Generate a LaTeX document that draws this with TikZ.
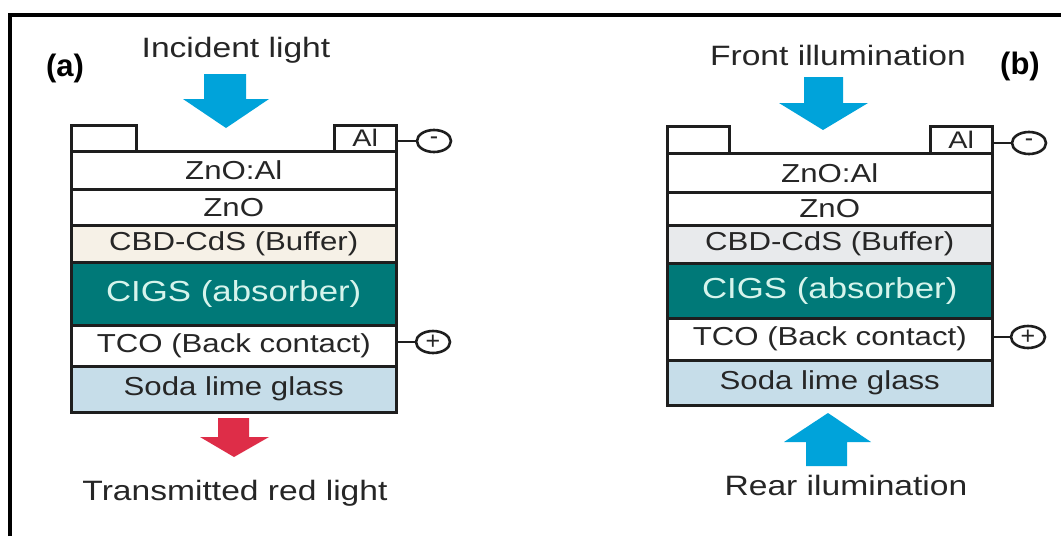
\documentclass[tikz,border=0pt]{standalone}
\usepackage{fontspec}
\usetikzlibrary{shapes.geometric}
\setmainfont{Liberation Sans}
\newfontfamily\lab[FakeStretch=1.2]{Liberation Sans}
\definecolor{lightblue}{RGB}{0,163,218}
\definecolor{redarrow}{RGB}{222,45,72}
\definecolor{teal1}{RGB}{0,121,120}
\definecolor{cigstxt}{RGB}{214,244,236}
\definecolor{beige}{RGB}{246,241,231}
\definecolor{greyl}{RGB}{232,234,236}
\definecolor{glass}{RGB}{198,221,233}
\definecolor{txt}{RGB}{38,38,38}
\definecolor{edge}{RGB}{30,30,30}
\begin{document}
\begin{tikzpicture}[x=1pt,y=-1pt,
  layer/.style={draw=edge, line width=2.5pt, minimum width=325pt, inner sep=0pt,
    anchor=north west, text=txt, font=\lab\fontsize{26}{26}\selectfont},
  contact/.style={draw=edge, line width=2.5pt, inner sep=0pt, anchor=north west,
    minimum height=26pt, text=txt, font=\lab\fontsize{24}{24}\selectfont},
  term/.style={draw=edge, line width=2.6pt, ellipse, minimum width=34pt, minimum height=22pt,
    inner sep=0pt, text=txt, font=\fontsize{25}{25}\selectfont},
  wire/.style={draw=edge, line width=2.6pt},
  caption/.style={anchor=base, text=txt, font=\lab\fontsize{28}{28}\selectfont},
  panel/.style={anchor=base, font=\bfseries\fontsize{31}{31}\selectfont}
]
\useasboundingbox (0,0) rectangle (1061,536);
\fill[white] (0,0) rectangle (1061,536);
% frame
\draw[line width=4pt, black] (10,536) -- (10,15) -- (1061,15);

% ---------------- panel (a)
\node[panel] (pa) at (65,76) {(a)};
\node[caption] (inc) at (236,57) {Incident light};
\fill[lightblue] (204,74) -- (246,74) -- (246,99) -- (269,99) -- (226,128) -- (183,99) -- (204,99) -- cycle;

\node[contact, minimum width=65pt] (ac1) at (70,124) {};
\node[contact, minimum width=62pt] (ac2) at (333,124) {Al};
\node[layer, minimum height=38pt] (a1) at (70,150) {ZnO:Al};
\node[layer, minimum height=36pt] (a2) at (70,188) {ZnO};
\node[layer, minimum height=37pt, fill=beige] (a3) at (70,224) {CBD-CdS (Buffer)};
\node[layer, minimum height=63pt, fill=teal1, text=cigstxt, font=\lab\fontsize{29}{29}\selectfont] (a4) at (70,261) {CIGS (absorber)};
\node[layer, minimum height=41pt] (a5) at (70,324) {TCO (Back contact)};
\node[layer, minimum height=46pt, fill=glass] (a6) at (70,365) {Soda lime glass};

\node[term] (am) at (434,141) {-};
\node[term] (ap) at (433,342) {+};
\draw[wire] (ac2.east |- am) -- (am.west);
\draw[wire] (a5.east |- ap) -- (ap.west);

\fill[redarrow] (218,418) -- (249,418) -- (249,437) -- (269,437) -- (234,457) -- (200,437) -- (218,437) -- cycle;
\node[caption] (tr) at (235,500) {Transmitted red light};

% ---------------- panel (b)
\node[panel] (pb) at (1020,74) {(b)};
\node[caption] (fr) at (838,65) {Front illumination};
\fill[lightblue] (804,77) -- (843,77) -- (843,103) -- (868,103) -- (823,130) -- (779,103) -- (804,103) -- cycle;

\node[contact, minimum width=62pt, minimum height=27pt] (bc1) at (666,125) {};
\node[contact, minimum width=62pt, minimum height=27pt] (bc2) at (929,125) {Al};
\node[layer, minimum height=39pt] (b1) at (666,152) {ZnO:Al};
\node[layer, minimum height=33pt] (b2) at (666,191) {ZnO};
\node[layer, minimum height=38pt, fill=greyl] (b3) at (666,224) {CBD-CdS (Buffer)};
\node[layer, minimum height=55pt, fill=teal1, text=cigstxt, font=\lab\fontsize{29}{29}\selectfont] (b4) at (666,262) {CIGS (absorber)};
\node[layer, minimum height=42pt] (b5) at (666,317) {TCO (Back contact)};
\node[layer, minimum height=45pt, fill=glass] (b6) at (666,359) {Soda lime glass};

\node[term] (bm) at (1029,143) {-};
\node[term] (bp) at (1028,337) {+};
\draw[wire] (bc2.east |- bm) -- (bm.west);
\draw[wire] (b5.east |- bp) -- (bp.west);

\fill[lightblue] (828,413) -- (871,442) -- (847,442) -- (847,466) -- (806,466) -- (806,442) -- (784,442) -- cycle;
\node[caption] (re) at (846,495) {Rear ilumination};
\end{tikzpicture}
\end{document}
